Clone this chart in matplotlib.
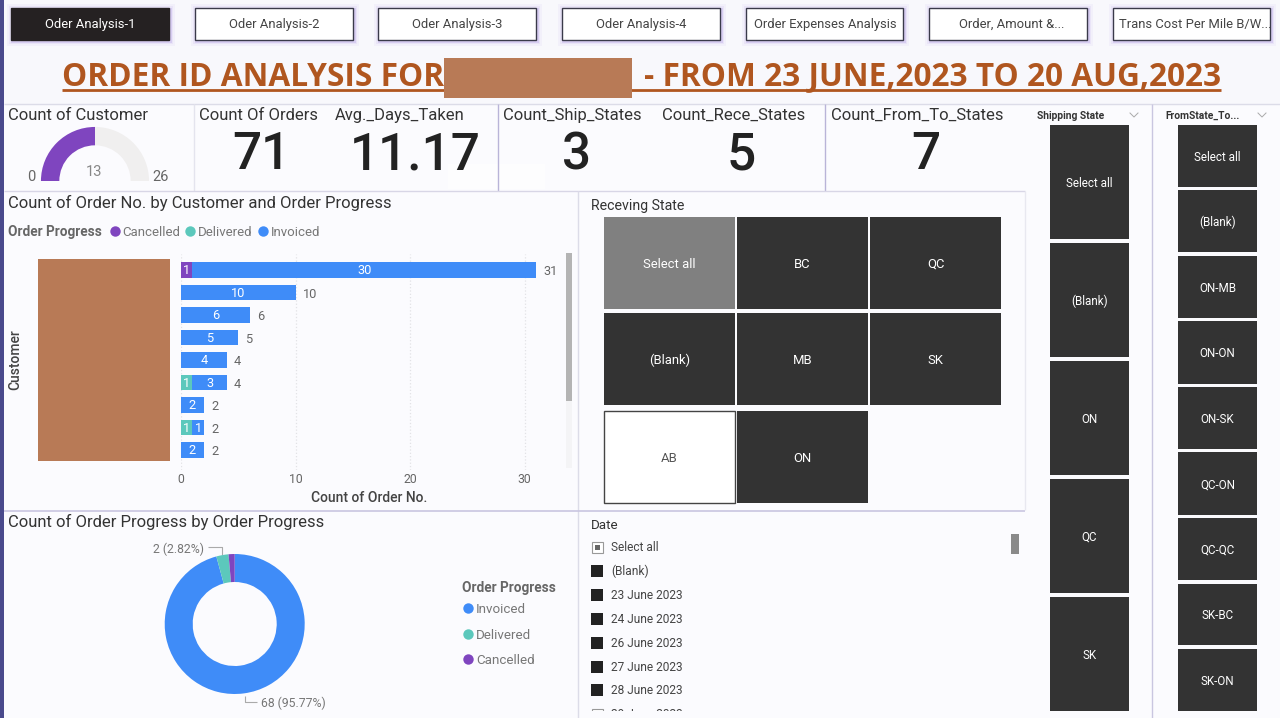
import matplotlib
matplotlib.use("Agg")
import matplotlib.pyplot as plt
import matplotlib.patches as patches
import numpy as np

plt.rcParams['font.family'] = ['Roboto', 'DejaVu Sans']

# dados
tabs = ["Oder Analysis-1", "Oder Analysis-2", "Oder Analysis-3", "Oder Analysis-4",
        "Order Expenses Analysis", "Order, Amount &...", "Trans Cost Per Mile B/W..."]
cancelled = [1, 0, 0, 0, 0, 0, 0, 0, 0]
delivered = [0, 0, 0, 0, 0, 1, 0, 1, 0]
invoiced = [30, 10, 6, 5, 4, 3, 2, 1, 2]
x_ticks = [0, 10, 20, 30]
progress_names = ["Invoiced", "Delivered", "Cancelled"]
progress_values = [68, 2, 1]
gauge_min = 0
gauge_value = 13
gauge_max = 26
count_orders = "71"
avg_days = "11.17"
count_ship = "3"
count_rece = "5"
count_from_to = "7"
rece_states = ["Select all", "BC", "QC", "(Blank)", "MB", "SK", "AB", "ON"]
ship_states = ["Select all", "(Blank)", "ON", "QC", "SK"]
from_to_states = ["Select all", "(Blank)", "ON-MB", "ON-ON", "ON-SK", "QC-ON", "QC-QC", "SK-BC", "SK-ON"]
dates = ["Select all", "(Blank)", "23 June 2023", "24 June 2023", "26 June 2023",
         "27 June 2023", "28 June 2023", "29 June 2023"]

PURPLE = "#7f45bf"
TEAL = "#5cc8bc"
BLUE = "#3f8cf8"
DARK = "#333333"
REDACT = "#b87a56"
TITLE = "#b0561f"
GREY = "#666666"
TXT = "#333333"
BG = "#f8f8fc"

W, H = 1280, 718
fig = plt.figure(figsize=(W / 100, H / 100), dpi=100, facecolor=BG)

# eixo de fundo em pixels
bg = fig.add_axes([0, 0, 1, 1], zorder=0)
bg.set_xlim(0, W)
bg.set_ylim(H, 0)
bg.axis('off')


def px_axes(x0, y0, x1, y1, zorder=2):
    # cria um eixo a partir de coordenadas em pixels
    ax = fig.add_axes([x0 / W, 1 - y1 / H, (x1 - x0) / W, (y1 - y0) / H], zorder=zorder)
    ax.patch.set_alpha(0)
    return ax


def rect(x0, y0, x1, y1, **kw):
    bg.add_patch(patches.Rectangle((x0, y0), x1 - x0, y1 - y0, **kw))


def line(xs, ys, color="#c9c6e0", lw=1, **kw):
    bg.plot(xs, ys, color=color, lw=lw, solid_capstyle='butt', **kw)


def label(x, y, s, **kw):
    # o texto do Roboto fica um pouco alto com va=center
    kw.setdefault('va', 'center')
    return bg.text(x, y + 1.2, s, **kw)


def tile(x0, y0, x1, y1, name, face=DARK, color="white", edge="none", size=9.4):
    rect(x0, y0, x1, y1, facecolor=face, edgecolor=edge, lw=1)
    label((x0 + x1) / 2, (y0 + y1) / 2, name, color=color, fontsize=size, ha='center')


# fundo dos paineis
rect(0, 0, 3.5, H, facecolor="#4a4a8c", edgecolor="none", zorder=5)
rect(4, 104, 1280, H, facecolor="#fbfbfe", edgecolor="none")
line([4, 1280], [104, 104], color="#dcdce8")
line([194, 194], [104, 191], color="#e4e4ee")
line([498, 498], [104, 191], color="#b9b4d8")
line([825, 825], [104, 191], color="#b9b4d8")
line([4, 1025], [191, 191], color="#d8d6e6")
line([578, 578], [191, H], color="#dcdce8")
line([4, 1025], [510.5, 510.5], color="#c9c6e0", lw=1.2)
line([1025, 1025], [191, 510], color="#e8e8f0")
line([1152, 1152], [104, H], color="#c9c6e0")

# abas
tab_x = [(11, 169), (195, 353), (378, 536), (562, 720), (746, 903), (929, 1087), (1113, 1270)]
tab_text_x = [90, 274, 457, 641, 825, 1012, 1195]
for i, (name, (x0, x1), xt) in enumerate(zip(tabs, tab_x, tab_text_x)):
    for grow, alpha in [(5, 0.06), (3, 0.10), (1.5, 0.22)]:
        rect(x0 - grow + 1, 8 - grow + 1, x1 + grow + 1, 40 + grow + 1, facecolor="#9a7fe0", alpha=alpha, edgecolor="none")
    active = i == 0
    rect(x0, 8, x1, 40, facecolor="#252122" if active else "white",
         edgecolor="#252122" if active else "#3a3a4a", lw=1)
    label(xt, 23.5, name, color="white" if active else "#444444", fontsize=9.4, ha='center')

# titulo
bg.text(62, 77, "ORDER ID ANALYSIS FOR", color=TITLE, fontsize=22.8, fontweight='bold',
        family=['Open Sans', 'DejaVu Sans'], ha='left', va='center')
bg.text(1221, 77, "- FROM 23 JUNE,2023 TO 20 AUG,2023", color=TITLE, fontsize=22.8, fontweight='bold',
        family=['Open Sans', 'DejaVu Sans'], ha='right', va='center')
line([62, 1221], [90, 90], color=TITLE, lw=2)
rect(444, 58, 632, 98, facecolor=REDACT, edgecolor="none", zorder=4)

# KPIs
rect(448, 164, 545, 189, facecolor="white", alpha=0.6, edgecolor="none", zorder=1.5)
kpis = [(8, "Count of Customer", None, None),
        (199, "Count Of Orders", count_orders, 261),
        (335, "Avg._Days_Taken", avg_days, 415),
        (503, "Count_Ship_States", count_ship, 577),
        (662, "Count_Rece_States", count_rece, 741),
        (831, "Count_From_To_States", count_from_to, 926)]
for x, title, value, xc in kpis:
    label(x, 114, title, color=TXT, fontsize=12, ha='left')
    if value is not None:
        bg.text(xc, 155, value, color="#222222", fontsize=37, fontweight='medium', ha='center', va='center')

# gauge
ax_g = px_axes(35, 121, 155, 241)
ax_g.pie([gauge_value - gauge_min, gauge_max - gauge_value, gauge_max - gauge_min],
         colors=[PURPLE, "#f0efef", "none"], startangle=180, counterclock=False, radius=1.0,
         wedgeprops=dict(width=0.34, linewidth=0))
ax_g.set_xlim(-1.11, 1.11)
ax_g.set_ylim(-1.11, 1.11)
label(31, 176, str(gauge_min), color=GREY, fontsize=10.5, ha='center')
label(94, 171, str(gauge_value), color="#888888", fontsize=10.5, ha='center')
label(161, 176, str(gauge_max), color=GREY, fontsize=10.5, ha='center')

# barras empilhadas
label(8, 202, "Count of Order No. by Customer and Order Progress", color=TXT, fontsize=12)
label(8, 231, "Order Progress", color=GREY, fontsize=9.8, fontweight='bold')
for dot_x, name, col in [(115, "Cancelled", PURPLE), (190, "Delivered", TEAL), (263, "Invoiced", BLUE)]:
    bg.plot([dot_x], [231], 'o', ms=7.5, color=col, mew=0)
    label(dot_x + 7.5, 231, name, color="#777777", fontsize=9.5)

cancelled_arr = np.array(cancelled)
delivered_arr = np.array(delivered)
invoiced_arr = np.array(invoiced)
rows = np.arange(len(invoiced))
ax = px_axes(181, 254.25, 540, 470.25)
ax.barh(rows, cancelled_arr, height=0.71, color=PURPLE)
ax.barh(rows, delivered_arr, left=cancelled_arr, height=0.71, color=TEAL)
ax.barh(rows, invoiced_arr, left=cancelled_arr + delivered_arr, height=0.71, color=BLUE)
ax.set_xlim(0, 359 / 11.45)
ax.set_ylim(8.9, -0.7)
ax.set_xticks(x_ticks)
ax.set_xticklabels([str(t) for t in x_ticks], color=GREY, fontsize=8.8)
ax.set_yticks([])
ax.tick_params(axis='x', length=0, pad=2)
ax.set_axisbelow(True)
ax.grid(axis='x', color="#e2e2e6", linestyle=':', lw=0.9)
for s in ax.spines.values():
    s.set_visible(False)
for i in rows:
    left = 0
    for v in (cancelled_arr[i], delivered_arr[i], invoiced_arr[i]):
        if v > 0:
            ax.text(left + v / 2, i + 0.04, str(v), color="white", fontsize=9.2, ha='center', va='center')
        left += v
    ax.text(left + 0.62, i + 0.07, str(left), color="#666666", fontsize=9.2, ha='left', va='center', clip_on=False)
label(369.5, 497, "Count of Order No.", color="#444444", fontsize=10, fontweight='medium', ha='center')
rect(38, 259, 170, 461, facecolor=REDACT, edgecolor="none", zorder=3)
bg.text(15, 360, "Customer", color="#444444", fontsize=10, fontweight='medium', rotation=90, ha='center', va='center')
rect(566, 253, 572, 468, facecolor="#f4f4f6", edgecolor="none")
rect(566, 253, 572, 401, facecolor="#b4b4b4", edgecolor="none")

# rosca
label(8, 521, "Count of Order Progress by Order Progress", color=TXT, fontsize=12)
ax_d = px_axes(164.7, 554, 304.7, 694)
ax_d.pie(progress_values, colors=[BLUE, TEAL, PURPLE], startangle=90, counterclock=False,
         radius=1.0, wedgeprops=dict(width=0.4, linewidth=0))
ax_d.set_xlim(-1, 1)
ax_d.set_ylim(-1, 1)
total = sum(progress_values)
label(204, 548, f"{progress_values[1]} ({progress_values[1] / total * 100:.2f}%)", color="#777777",
      fontsize=8.8, ha='right')
line([208, 222, 222], [547, 547, 555], color="#aaaaaa", lw=0.8)
label(261, 702, f"{progress_values[0]} ({progress_values[0] / total * 100:.2f}%)", color="#777777",
      fontsize=8.8, ha='left')
line([245, 245, 257], [696, 702, 702], color="#aaaaaa", lw=0.8)
label(462, 587, "Order Progress", color=GREY, fontsize=9.8, fontweight='bold')
for name, col, y in zip(progress_names, [BLUE, TEAL, PURPLE], [608, 634, 659]):
    bg.plot([468], [y], 'o', ms=7.5, color=col, mew=0)
    label(476, y, name, color="#777777", fontsize=9.6)

# slicer Receving State
label(591, 204.5, "Receving State", color=TXT, fontsize=10.2)
col_x = [(604, 735), (737, 868), (870, 1001)]
row_y = [(217, 309), (313, 405), (411, 503)]
for i, name in enumerate(rece_states):
    x0, x1 = col_x[i % 3]
    y0, y1 = row_y[i // 3]
    if name == "Select all":
        tile(x0, y0, x1, y1, name, face="#808080")
    elif name == "AB":
        tile(x0, y0, x1, y1, name, face="white", color="#555555", edge="#444444")
    else:
        tile(x0, y0, x1, y1, name)

# slicer Shipping State
label(1037, 115, "Shipping State", color=TXT, fontsize=7.4, fontweight='bold')
bg.plot([1130, 1134, 1138], [113, 117, 113], color="#aaaaaa", lw=0.7)
ship_y = [(125, 239), (243, 357), (361, 475), (479, 593), (597, 711)]
for name, (y0, y1) in zip(ship_states, ship_y):
    tile(1050, y0, 1129, y1, name, size=8.4)

# slicer FromState
label(1165, 115, "FromState_To...", color=TXT, fontsize=7.4, fontweight='bold')
bg.plot([1258, 1262, 1266], [113, 117, 113], color="#aaaaaa", lw=0.7)
from_y = [(125, 187), (190, 252), (256, 318), (321, 384), (387, 449), (452, 515), (518, 580), (584, 645), (649, 711)]
for name, (y0, y1) in zip(from_to_states, from_y):
    tile(1178, y0, 1257, y1, name, size=8.4)

# slicer Date
label(591, 524.5, "Date", color=TXT, fontsize=9.6)
date_y = [547, 571, 594.5, 619, 642.5, 667, 690, 714]
for i, (name, y) in enumerate(zip(dates, date_y)):
    if i == 0:
        rect(591.5, y - 5.5, 602.5, y + 5.5, facecolor="white", edgecolor="#999999", lw=0.8)
        rect(594.5, y - 2.5, 599.5, y + 2.5, facecolor="#666666", edgecolor="none")
    elif i == len(dates) - 1:
        rect(591.5, y - 5.5, 602.5, y + 5.5, facecolor="white", edgecolor="#999999", lw=0.8)
    else:
        rect(591, y - 6, 603, y + 6, facecolor="#222222", edgecolor="none")
    label(611, y - 0.5, name, color="#444444", fontsize=8.6)
rect(585, 711, 1020, H, facecolor="#fbfbfe", edgecolor="none", zorder=3.5)
rect(1011, 534, 1019, 554, facecolor="#8a8a8a", edgecolor="none")

fig.savefig("out.png", dpi=100, facecolor=fig.get_facecolor())
